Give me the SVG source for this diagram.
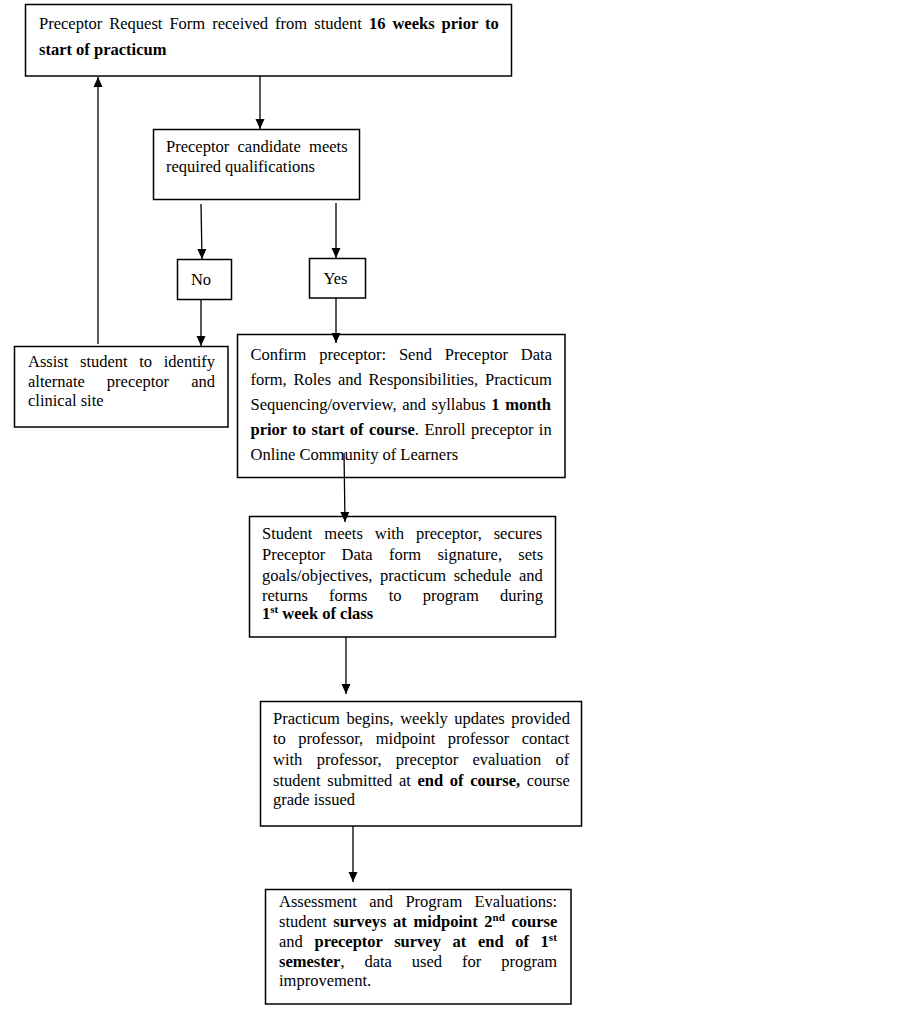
<svg xmlns="http://www.w3.org/2000/svg" width="902" height="1011" viewBox="0 0 902 1011">
<style>
text{font-family:"Liberation Serif","Times New Roman",serif;font-size:16.5px;fill:#000}
.b{font-weight:bold}
.box{fill:#fff;stroke:#000;stroke-width:1.5}
.con line{stroke:#000;stroke-width:1.3;fill:none}
</style>
<defs>
<marker id="ah" markerUnits="userSpaceOnUse" markerWidth="10" markerHeight="10" viewBox="0 0 10 10" refX="10" refY="5" orient="auto">
<path d="M0,0.5 L10,5 L0,9.5 Z" fill="#000"/>
</marker>
</defs>
<rect width="902" height="1011" fill="#fff"/>
<g id="n1">
<rect class="box" x="25.5" y="4.5" width="486" height="71.5"/>
<text x="39" y="29" word-spacing="2.9">Preceptor Request Form received from student <tspan class="b">16 weeks prior to</tspan></text>
<text x="39" y="55" class="b">start of practicum</text>
</g>
<g id="n2">
<rect class="box" x="153.5" y="129.5" width="206" height="70"/>
<text x="166" y="152" word-spacing="4.2">Preceptor candidate meets</text>
<text x="166" y="172">required qualifications</text>
</g>
<g id="no">
<rect class="box" x="177.5" y="259.5" width="54" height="40"/>
<text x="201" y="285" text-anchor="middle">No</text>
</g>
<g id="yes">
<rect class="box" x="309.5" y="258.5" width="56" height="39.5"/>
<text x="335.5" y="284" text-anchor="middle">Yes</text>
</g>
<g id="assist">
<rect class="box" x="14.5" y="346.5" width="213.5" height="80.5"/>
<text x="28" y="367" word-spacing="7.5">Assist student to identify</text>
<text x="28" y="387" word-spacing="17.9">alternate preceptor and</text>
<text x="28" y="406">clinical site</text>
</g>
<g id="confirm">
<rect class="box" x="237.5" y="334.5" width="327.5" height="143"/>
<text x="250.5" y="360" word-spacing="8.7">Confirm preceptor: Send Preceptor Data</text>
<text x="250.5" y="385" word-spacing="2.7">form, Roles and Responsibilities, Practicum</text>
<text x="250.5" y="410" word-spacing="1.5">Sequencing/overview, and syllabus <tspan class="b">1 month</tspan></text>
<text x="250.5" y="435" word-spacing="1.3"><tspan class="b">prior to start of course</tspan>. Enroll preceptor in</text>
<text x="250.5" y="460">Online Community of Learners</text>
</g>
<g id="student">
<rect class="box" x="249.5" y="516.5" width="306" height="120.5"/>
<text x="262" y="539" word-spacing="7.8">Student meets with preceptor, secures</text>
<text x="262" y="560" word-spacing="12.2">Preceptor Data form signature, sets</text>
<text x="262" y="581" word-spacing="3.5">goals/objectives, practicum schedule and</text>
<text x="262" y="601" word-spacing="17.1">returns forms to program during</text>
<text x="262" y="619" class="b">1<tspan font-size="11" dy="-6">st</tspan><tspan dy="6"> week of class</tspan></text>
</g>
<g id="practicum">
<rect class="box" x="260.5" y="701.5" width="321" height="124.5"/>
<text x="273" y="724" word-spacing="2.4">Practicum begins, weekly updates provided</text>
<text x="273" y="744" word-spacing="8.4">to professor, midpoint professor contact</text>
<text x="273" y="765" word-spacing="10.2">with professor, preceptor evaluation of</text>
<text x="273" y="786" word-spacing="2.5">student submitted at <tspan class="b">end of course,</tspan> course</text>
<text x="273" y="805">grade issued</text>
</g>
<g id="assessment">
<rect class="box" x="265.5" y="889.5" width="305.5" height="114.5"/>
<text x="279" y="907" word-spacing="8.2">Assessment and Program Evaluations:</text>
<text x="279" y="927" word-spacing="2.5">student <tspan class="b">surveys at midpoint 2<tspan font-size="11" dy="-6">nd</tspan><tspan dy="6"> course</tspan></tspan></text>
<text x="279" y="947" word-spacing="7.5">and <tspan class="b">preceptor survey at end of 1<tspan font-size="11" dy="-6">st</tspan></tspan></text>
<text x="279" y="967" word-spacing="15.8"><tspan class="b">semester</tspan>, data used for program</text>
<text x="279" y="986">improvement.</text>
</g>
<g id="connectors" class="con">
<line x1="260" y1="76" x2="260" y2="129" marker-end="url(#ah)"/>
<line x1="201" y1="204" x2="202" y2="259" marker-end="url(#ah)"/>
<line x1="336" y1="203" x2="336" y2="258" marker-end="url(#ah)"/>
<line x1="201" y1="299" x2="201" y2="346" marker-end="url(#ah)"/>
<line x1="336" y1="298" x2="336" y2="343" marker-end="url(#ah)"/>
<line x1="98" y1="344" x2="98" y2="77" marker-end="url(#ah)"/>
<line x1="344" y1="453" x2="345" y2="522" marker-end="url(#ah)"/>
<line x1="346" y1="637" x2="346" y2="694" marker-end="url(#ah)"/>
<line x1="353" y1="826" x2="353" y2="882" marker-end="url(#ah)"/>
</g>
</svg>
